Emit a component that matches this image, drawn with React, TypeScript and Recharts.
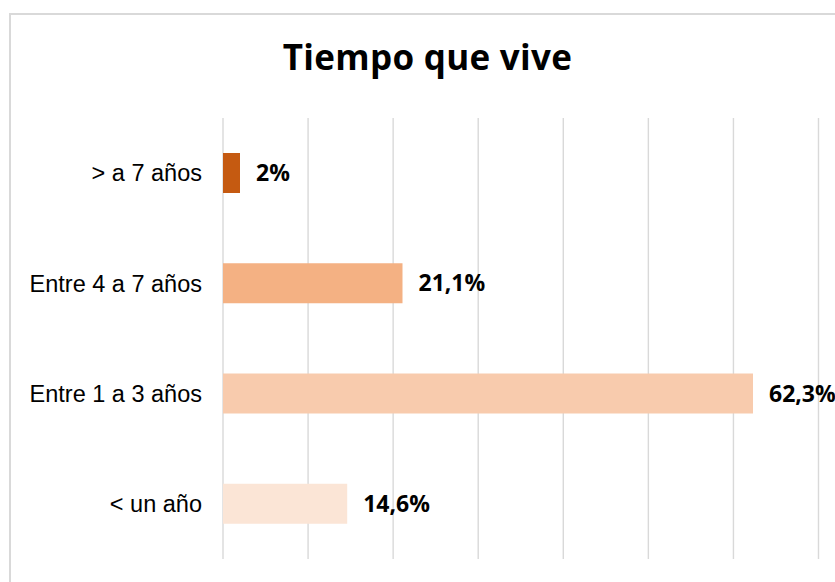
import { BarChart, Bar, XAxis, YAxis, CartesianGrid, Cell, LabelList } from 'recharts';

const categories = ['> a 7 años', 'Entre 4 a 7 años', 'Entre 1 a 3 años', '< un año'];
const values = [2, 21.1, 62.3, 14.6];
const barColors = ['#C55A11', '#F4B183', '#F8CBAD', '#FBE5D6'];
const xTicks = [0, 10, 20, 30, 40, 50, 60, 70];

const data = categories.map((name, i) => ({ name, value: values[i] }));

const formatPct = (v: number) => `${String(v).replace('.', ',')}%`;

export default function App() {
  return (
    <div
      style={{
        position: 'fixed',
        left: 0,
        top: 0,
        width: 835,
        height: 582,
        background: '#fff',
        overflow: 'hidden',
      }}
    >
      {/* chart frame, runs off the right and bottom edge like the source */}
      <div
        style={{
          position: 'absolute',
          left: 9,
          top: 13,
          width: 840,
          height: 600,
          border: '2px solid #D9D9D9',
          boxSizing: 'border-box',
        }}
      />
      <div
        style={{
          position: 'absolute',
          left: 0,
          top: 34,
          width: 855,
          textAlign: 'center',
          fontFamily: '"Open Sans", sans-serif',
          fontWeight: 700,
          fontSize: 35,
          letterSpacing: 0.3,
          color: '#000',
          lineHeight: '46px',
        }}
      >
        Tiempo que vive
      </div>
      <div style={{ position: 'absolute', left: 0, top: 0 }}>
        <BarChart
          width={835}
          height={582}
          data={data}
          layout="vertical"
          margin={{ top: 118, right: 16.5, bottom: 23, left: 0 }}
        >
          <CartesianGrid horizontal={false} stroke="#D9D9D9" strokeWidth={1.4} />
          <XAxis type="number" domain={[0, 70]} ticks={xTicks} hide />
          <YAxis
            type="category"
            dataKey="name"
            width={223}
            axisLine={false}
            tickLine={false}
            tickSize={0}
            tickMargin={21}
            tick={{ fill: '#000', fontSize: 23.5, fontFamily: '"Liberation Sans", Arial, sans-serif' }}
          />
          <Bar dataKey="value" barSize={40} isAnimationActive={false}>
            {data.map((_, i) => (
              <Cell key={`cell-${i}`} fill={barColors[i]} />
            ))}
            <LabelList
              dataKey="value"
              position="right"
              offset={16}
              formatter={(v: number) => formatPct(v)}
              style={{
                fill: '#000',
                fontSize: 23,
                fontWeight: 700,
                fontFamily: '"Open Sans", sans-serif',
              }}
            />
          </Bar>
        </BarChart>
      </div>
    </div>
  );
}
